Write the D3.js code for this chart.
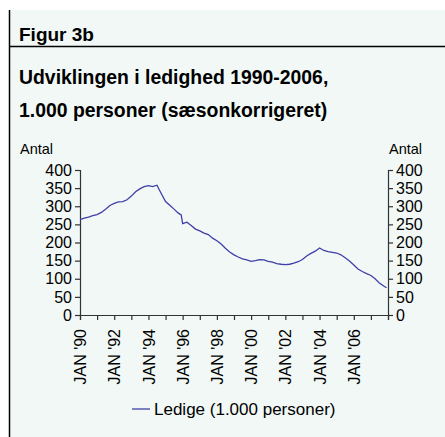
<!DOCTYPE html>
<html>
<head>
<meta charset="utf-8">
<script src="https://cdn.jsdelivr.net/npm/d3@7"></script>
<style>
	body { margin: 0; background: #ffffff; }
	svg { display: block; font-family: "Liberation Sans", Arial, sans-serif; }
</style>
</head>
<body>
<svg id="chart"></svg>
<script>
// Data: quarterly readings (1.000 personer), Jan 1990 - Dec 2007.
var dates = [
	"1990-01","1990-04","1990-07","1990-10","1991-01","1991-04","1991-07","1991-10",
	"1992-01","1992-04","1992-07","1992-10","1993-01","1993-04","1993-07","1993-10",
	"1994-01","1994-04","1994-07","1994-10","1995-01","1995-04","1995-07","1995-10",
	"1995-12","1996-01","1996-04","1996-07","1996-10","1997-01","1997-04","1997-07","1997-10",
	"1998-01","1998-04","1998-07","1998-10","1999-01","1999-04","1999-07","1999-10",
	"2000-01","2000-04","2000-07","2000-10","2001-01","2001-04","2001-07","2001-10",
	"2002-01","2002-04","2002-07","2002-10","2003-01","2003-04","2003-07","2003-10",
	"2004-01","2004-04","2004-07","2004-10","2005-01","2005-04","2005-07","2005-10",
	"2006-01","2006-04","2006-07","2006-10","2007-01","2007-04","2007-07","2007-10","2007-12"
];
var ledige = [
	263,267,270,274,277,283,292,302,
	308,312,313,318,328,340,348,354,
	357,354,358,335,313,303,292,281,
	276,252,256,247,237,232,226,222,212,
	205,196,184,174,166,160,155,152,
	148,150,153,152,148,146,142,140,
	139,140,143,147,153,163,170,176,
	185,178,175,173,171,166,158,149,
	138,127,120,114,109,100,88,80,75
];
var yTicks = [0, 50, 100, 150, 200, 250, 300, 350, 400];
var xLabelYears = [1990, 1992, 1994, 1996, 1998, 2000, 2002, 2004, 2006];

var chartWidth = 445, chartHeight = 437;
var plotLeft = 80, plotRight = 388, plotTop = 170, plotBottom = 315;

var svg = d3.select("#chart").attr("width", chartWidth).attr("height", chartHeight);

// Panel background and frame lines.
svg.append("rect").attr("x", 9).attr("y", 10).attr("width", chartWidth - 9).attr("height", chartHeight - 10).attr("fill", "#f1f8f6");
svg.append("line").attr("x1", 9.5).attr("x2", 9.5).attr("y1", 10).attr("y2", chartHeight).attr("stroke", "#000").attr("stroke-width", 1.5);
svg.append("line").attr("x1", 9).attr("x2", chartWidth).attr("y1", 46.5).attr("y2", 46.5).attr("stroke", "#000").attr("stroke-width", 1.5);

// Titles.
svg.append("text").attr("x", 19).attr("y", 41).attr("font-size", 19).attr("font-weight", "bold").text("Figur 3b");
svg.append("text").attr("x", 19).attr("y", 84).attr("font-size", 19.4).attr("font-weight", "bold").text("Udviklingen i ledighed 1990-2006,");
svg.append("text").attr("x", 19).attr("y", 117).attr("font-size", 19.4).attr("font-weight", "bold").text("1.000 personer (sæsonkorrigeret)");

// Scales.
var parse = d3.timeParse("%Y-%m");
var x = d3.scaleTime().domain([new Date(1990, 0, 1), new Date(2008, 0, 1)]).range([plotLeft, plotRight]);
var y = d3.scaleLinear().domain([0, 400]).range([plotBottom, plotTop]);

// Axes.
var yLeft = svg.append("g").attr("transform", "translate(" + plotLeft + ",0)")
	.call(d3.axisLeft(y).tickValues(yTicks).tickSize(5).tickPadding(3));
var yRight = svg.append("g").attr("transform", "translate(" + plotRight + ",0)")
	.call(d3.axisRight(y).tickValues(yTicks).tickSize(5).tickPadding(3));
var yearTicks = d3.range(1990, 2009).map(function(d) { return new Date(d, 0, 1); });
var xAxis = svg.append("g").attr("transform", "translate(0," + plotBottom + ")")
	.call(d3.axisBottom(x).tickValues(yearTicks).tickSize(5)
		.tickFormat(function(d) {
			var yr = d.getFullYear();
			return xLabelYears.indexOf(yr) >= 0 ? "JAN '" + String(yr).slice(2) : "";
		}));
[yLeft, yRight, xAxis].forEach(function(g) {
	g.select(".domain").attr("stroke", "#333").attr("stroke-width", 1.2);
	g.selectAll(".tick line").attr("stroke", "#333").attr("stroke-width", 1.2);
	g.selectAll("text").attr("font-size", 16).attr("fill", "#000").attr("font-family", "Liberation Sans, Arial, sans-serif");
});
xAxis.selectAll(".tick text")
	.attr("transform", "rotate(-90)")
	.attr("text-anchor", "end")
	.attr("dy", "0.35em")
	.attr("x", -14)
	.attr("y", 0);

// Axis titles.
svg.append("text").attr("x", 20).attr("y", 154).attr("font-size", 14.5).text("Antal");
svg.append("text").attr("x", 389).attr("y", 154).attr("font-size", 14.5).text("Antal");

// The line.
var points = dates.map(function(d, i) { return { date: parse(d), value: ledige[i] }; });
svg.append("path")
	.datum(points)
	.attr("fill", "none")
	.attr("stroke", "#3f3fa6")
	.attr("stroke-width", 1.3)
	.attr("d", d3.line().x(function(d) { return x(d.date); }).y(function(d) { return y(d.value); }));

// Legend.
svg.append("line").attr("x1", 132).attr("x2", 150).attr("y1", 409).attr("y2", 409).attr("stroke", "#3f3fa6").attr("stroke-width", 1.3);
svg.append("text").attr("x", 154).attr("y", 415).attr("font-size", 17).text("Ledige (1.000 personer)");
</script>
</body>
</html>
